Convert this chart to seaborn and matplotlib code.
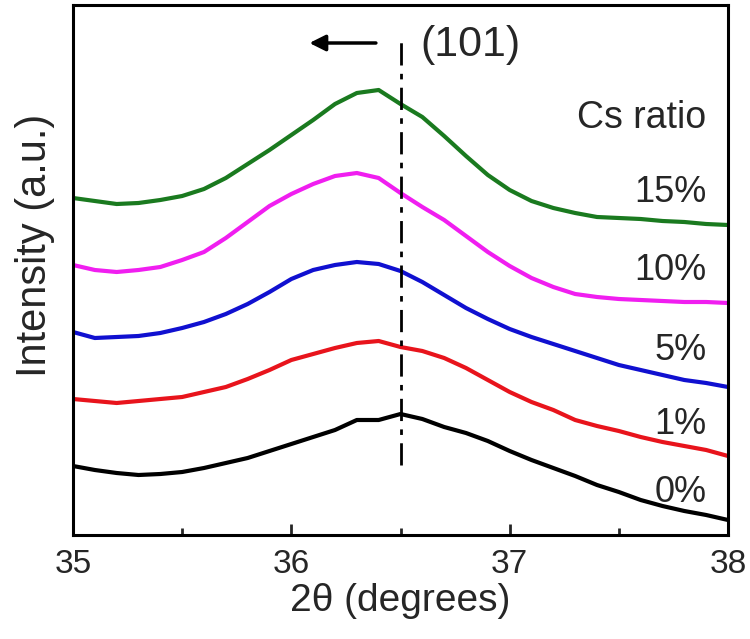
import numpy as np
import pandas as pd
import matplotlib
matplotlib.use("Agg")
import matplotlib.pyplot as plt
from matplotlib.ticker import MultipleLocator, FixedLocator
import seaborn as sns

two_theta = [35.0, 35.1, 35.2, 35.3, 35.4, 35.5, 35.6, 35.7, 35.8, 35.9, 36.0,
             36.1, 36.2, 36.3, 36.4, 36.5, 36.6, 36.7, 36.8, 36.9, 37.0,
             37.1, 37.2, 37.3, 37.4, 37.5, 37.6, 37.7, 37.8, 37.9, 38.0]

int_0 = [69, 65, 62, 60, 61, 63, 67, 72, 77, 84, 91, 98, 105, 115, 115, 121,
         116, 108, 102, 94, 84, 75, 67, 59, 50, 43, 35, 29, 24, 20, 15]
int_1 = [136, 134, 132, 134, 136, 138, 143, 148, 156, 165, 175, 181, 187, 192,
         194, 188, 184, 177, 167, 155, 143, 133, 125, 115, 109, 104, 98, 93, 89, 85, 79]
int_5 = [203, 197, 198, 199, 202, 207, 213, 221, 231, 243, 256, 265, 270, 273,
         271, 264, 253, 240, 227, 216, 206, 198, 191, 184, 177, 170, 165, 160, 155, 152, 148]
int_10 = [270, 265, 263, 265, 268, 275, 283, 297, 313, 329, 341, 351, 359, 362,
          357, 342, 328, 315, 299, 283, 269, 257, 248, 241, 238, 236, 235, 234, 233, 233, 232]
int_15 = [337, 334, 331, 332, 335, 339, 346, 357, 371, 385, 400, 415, 431, 442,
          445, 431, 418, 399, 379, 360, 345, 334, 327, 322, 318, 317, 316, 314, 313, 311, 310]

ratios = ["0%", "1%", "5%", "10%", "15%"]
colors = ["#000000", "#e8141c", "#1010d0", "#f01ef0", "#1a7a1f"]
label_y = [43, 110, 185, 265, 342]

x_ticks = [35, 36, 37, 38]
x_tick_labels = ["35", "36", "37", "38"]
peak_pos = 36.5

series = [int_0, int_1, int_5, int_10, int_15]
df = pd.concat([pd.DataFrame({"2theta": two_theta, "I": s, "ratio": r})
                for s, r in zip(series, ratios)], ignore_index=True)

sns.set_style("ticks")
plt.rcParams["font.family"] = ["Liberation Sans", "DejaVu Sans"]

fig = plt.figure(figsize=(7.5, 6.39), dpi=100)
ax = fig.add_axes([73/750, 1-535/639, 655/750, 530/639])

sns.lineplot(data=df, x="2theta", y="I", hue="ratio", hue_order=ratios,
             palette=colors, linewidth=3, legend=False, ax=ax, sort=False)

ax.set_xlim(35, 38)
ax.set_ylim(0, 530)
ax.xaxis.set_major_locator(FixedLocator(x_ticks))
ax.set_xticklabels(x_tick_labels)
ax.xaxis.set_minor_locator(MultipleLocator(0.5))
ax.tick_params(axis="x", which="major", direction="in", length=8, width=2,
               labelsize=24, pad=10)
ax.tick_params(axis="x", which="minor", direction="in", length=5, width=2)
ax.set_yticks([])
for sp in ax.spines.values():
    sp.set_visible(True)
    sp.set_linewidth(2.2)
    sp.set_color("black")

ax.set_xlabel("2θ (degrees)", fontsize=28, labelpad=2)
ax.set_ylabel("Intensity (a.u.)", fontsize=30)
ax.yaxis.set_label_coords(-0.027, 0.547)

ax.plot([peak_pos, peak_pos], [70, 497], color="black", lw=2,
        linestyle=(0, (8, 3, 2, 3)))
ax.annotate("", xy=(36.07, 492), xytext=(36.40, 492),
            arrowprops=dict(arrowstyle="-|>", color="black", lw=2.5,
                            mutation_scale=24))
ax.text(36.82, 490, "(101)", fontsize=31, ha="center", va="center")
ax.text(37.9, 417, "Cs ratio", fontsize=27, ha="right", va="center")
for r, yv in zip(ratios, label_y):
    ax.text(37.9, yv, r, fontsize=26, ha="right", va="center")

fig.savefig("out.png", dpi=100)
